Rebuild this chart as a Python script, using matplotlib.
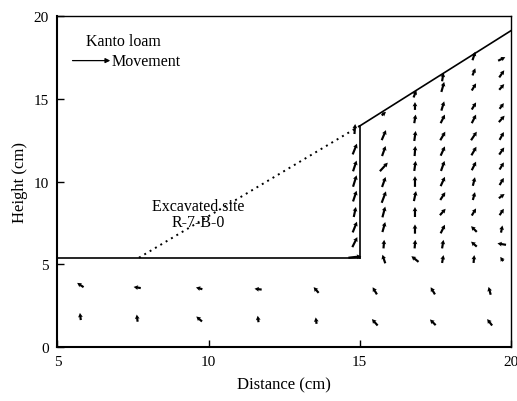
import numpy as np
import matplotlib
matplotlib.use('Agg')
import matplotlib.pyplot as plt

plt.rcParams['font.family'] = ['Liberation Serif', 'DejaVu Serif']

# boundary of the excavated slope (cm)
floor_x = [5.0, 15.0]
floor_y = [5.4, 5.4]
wall_x = [15.0, 15.0]
wall_y = [5.4, 13.35]
slope_x = [15.0, 20.0]
slope_y = [13.35, 19.1]
orig_x = [7.7, 15.0]
orig_y = [5.4, 13.35]

# movement vectors: x, y, u, v (u/v in display units)
col_a_y = [5.44, 6.34, 7.25, 8.16, 9.12, 10.03, 10.94, 11.96, 13.17]
col_a_u = [0.9, 0.35, 0.3, 0.15, 0.25, 0.25, 0.25, 0.3, 0.05]
col_a_v = [0.1, 0.7, 0.75, 0.7, 0.75, 0.8, 0.75, 0.75, 0.7]

col_b_y = [5.32, 6.22, 7.25, 8.16, 9.06, 9.97, 10.88, 11.84, 12.8, 14.1]
col_b_u = [-0.2, 0.05, 0.2, 0.2, 0.3, 0.25, 0.55, 0.25, 0.3, 0.3]
col_b_v = [0.6, 0.6, 0.7, 0.75, 0.8, 0.7, 0.6, 0.7, 0.7, 0.25]

col_c_y = [5.32, 6.22, 7.13, 8.16, 9.12, 10.0, 10.94, 11.84, 12.75, 13.78, 14.56, 15.29]
col_c_u = [-0.5, 0.05, 0.0, 0.0, 0.15, 0.0, 0.1, 0.05, 0.1, 0.1, 0.0, 0.2]
col_c_v = [0.4, 0.6, 0.65, 0.7, 0.7, 0.75, 0.7, 0.7, 0.7, 0.6, 0.55, 0.5]

col_d_y = [5.32, 6.22, 7.13, 8.16, 9.12, 10.0, 10.94, 11.84, 12.75, 13.78, 14.56, 15.71, 16.31]
col_d_u = [0.1, 0.1, 0.3, 0.4, 0.35, 0.3, 0.25, 0.3, 0.35, 0.3, 0.2, 0.2, 0.1]
col_d_v = [0.55, 0.6, 0.6, 0.45, 0.55, 0.65, 0.7, 0.65, 0.6, 0.6, 0.65, 0.7, 0.6]

col_e_y = [5.32, 6.22, 7.13, 8.16, 9.12, 10.0, 10.94, 11.84, 12.75, 13.78, 14.56, 15.71, 16.62, 17.58]
col_e_u = [0.05, -0.4, -0.4, 0.3, 0.15, 0.15, 0.3, 0.35, 0.4, 0.3, 0.3, 0.3, 0.2, 0.2]
col_e_v = [0.55, 0.35, 0.4, 0.5, 0.55, 0.6, 0.6, 0.6, 0.6, 0.6, 0.5, 0.5, 0.5, 0.6]

col_f_y = [5.32, 6.22, 7.13, 8.16, 9.12, 10.0, 10.94, 11.84, 12.75, 13.78, 14.56, 15.71, 16.5, 17.4]
col_f_u = [-0.2, -0.6, 0.1, 0.3, 0.4, 0.3, 0.3, 0.35, 0.3, 0.4, 0.3, 0.35, 0.35, 0.5]
col_f_v = [0.3, 0.1, 0.5, 0.45, 0.3, 0.5, 0.5, 0.5, 0.55, 0.45, 0.4, 0.4, 0.5, 0.25]

col_x = [14.84, 15.8, 16.83, 17.75, 18.78, 19.7]

low_x = [5.76, 7.64, 9.69, 11.64, 13.56, 15.5, 17.42, 19.3]
low_y1 = [3.75, 3.6, 3.55, 3.5, 3.45, 3.4, 3.4, 3.4]
low_u1 = [-0.45, -0.5, -0.45, -0.5, -0.35, -0.3, -0.3, -0.15]
low_v1 = [0.3, 0.08, 0.12, 0.06, 0.4, 0.5, 0.5, 0.55]
low_y2 = [1.85, 1.75, 1.7, 1.7, 1.6, 1.5, 1.5, 1.5]
low_u2 = [-0.06, -0.06, -0.4, -0.06, -0.06, -0.4, -0.4, -0.35]
low_v2 = [0.5, 0.5, 0.35, 0.45, 0.45, 0.45, 0.4, 0.45]

cols_y = [col_a_y, col_b_y, col_c_y, col_d_y, col_e_y, col_f_y]
cols_u = [col_a_u, col_b_u, col_c_u, col_d_u, col_e_u, col_f_u]
cols_v = [col_a_v, col_b_v, col_c_v, col_d_v, col_e_v, col_f_v]

X, Y, U, V = [], [], [], []
for cx, ys, us, vs in zip(col_x, cols_y, cols_u, cols_v):
    X += [cx] * len(ys)
    Y += ys
    U += us
    V += vs
X += low_x + low_x
Y += low_y1 + low_y2
U += low_u1 + low_u2
V += low_v1 + low_v2

fig = plt.figure(figsize=(5.17, 4.02), dpi=100)
ax = fig.add_axes([0.111, 0.134, 0.877, 0.824])

ax.plot(floor_x, floor_y, color='black', lw=1.2)
ax.plot(wall_x, wall_y, color='black', lw=1.2)
ax.plot(slope_x, slope_y, color='black', lw=1.2)
ax.plot(orig_x, orig_y, color='black', lw=1.4, ls=(0, (1, 2.2)))

ax.quiver(X, Y, U, V, angles='uv', scale_units='inches', scale=7,
          width=0.0048, headwidth=2.2, headlength=2.0, headaxislength=1.8,
          minlength=0.5, color='black', pivot='middle')

ax.text(5.95, 18.5, 'Kanto loam', fontsize=11.5, va='center')
ax.annotate('', xy=(6.75, 17.3), xytext=(5.5, 17.3),
            arrowprops=dict(arrowstyle='-|>', color='black', lw=0.9,
                            mutation_scale=7, shrinkA=0, shrinkB=0))
ax.text(6.8, 17.3, 'Movement', fontsize=11.5, va='center')
ax.text(9.66, 8.5, 'Excavated site', fontsize=11.5, ha='center', va='center')
ax.text(9.66, 7.55, 'R-7-B-0', fontsize=11.5, ha='center', va='center')

ax.set_xlim(5, 20)
ax.set_ylim(0, 20)
ax.set_xticks([5, 10, 15, 20])
ax.set_yticks([0, 5, 10, 15, 20])
ax.tick_params(direction='in', length=5, width=1, labelsize=11, pad=6)
ax.set_xlabel('Distance (cm)', fontsize=12, labelpad=6)
ax.set_ylabel('Height (cm)', fontsize=12, labelpad=4)
ax.spines['left'].set_linewidth(1.5)
ax.spines['bottom'].set_linewidth(1.5)
ax.spines['top'].set_linewidth(1.0)
ax.spines['right'].set_linewidth(1.0)

fig.savefig('out.png', dpi=100)
